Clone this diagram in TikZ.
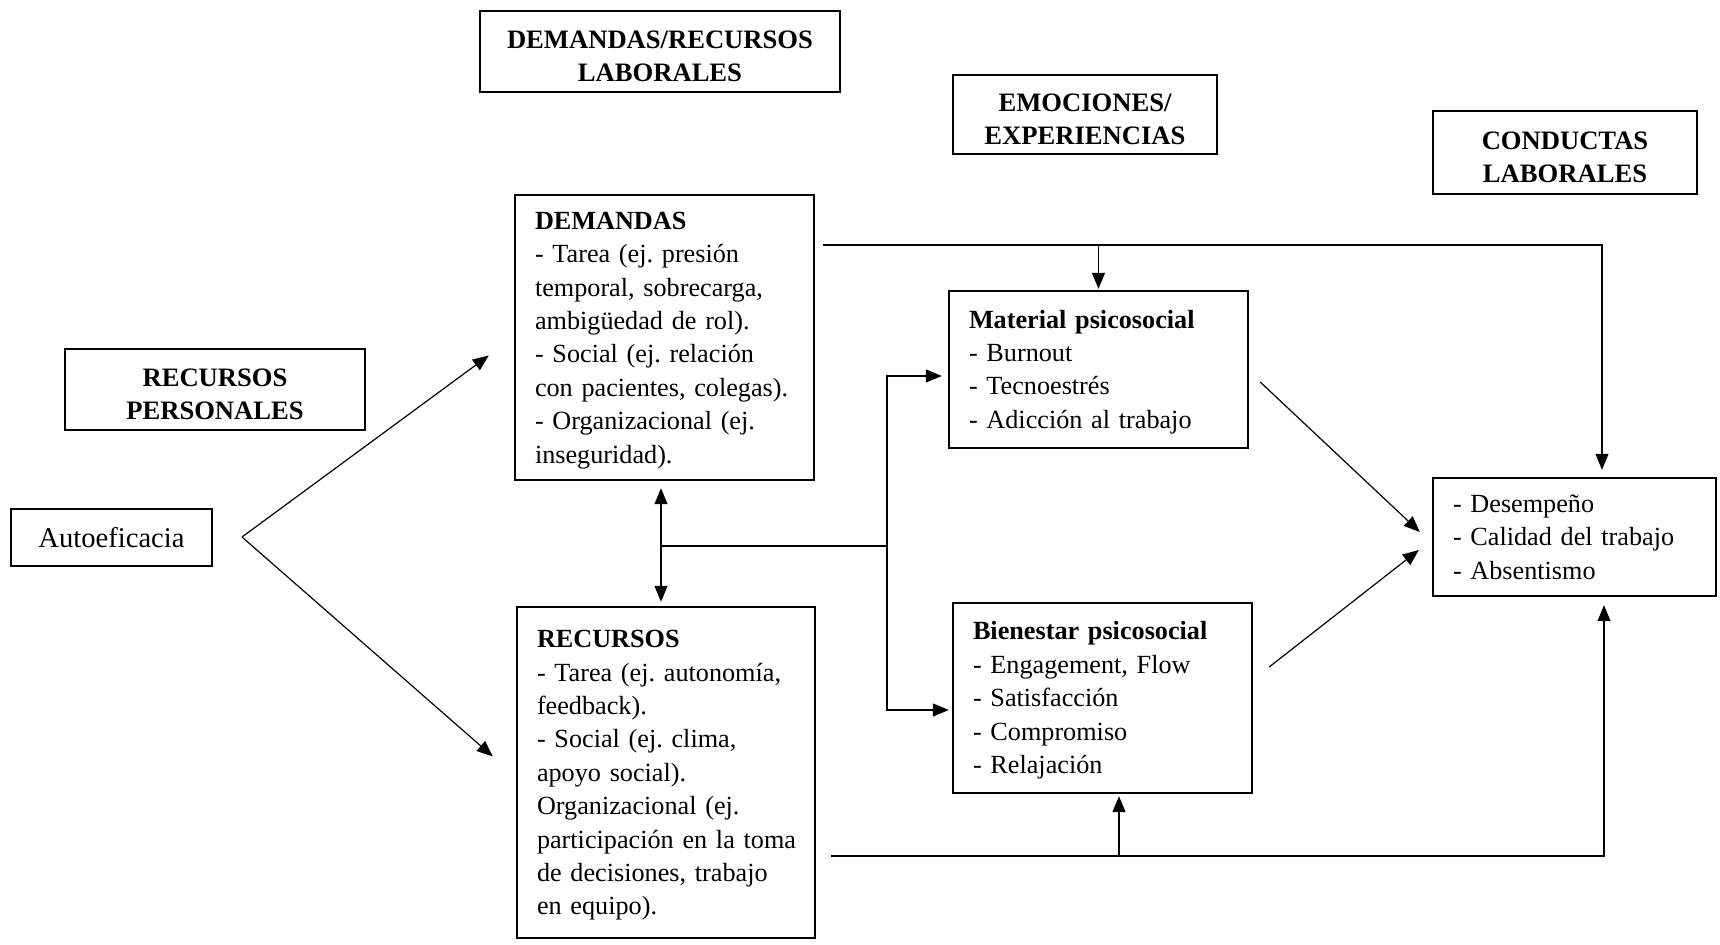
\documentclass[tikz,border=0pt]{standalone}
\usepackage{fontspec}
\setmainfont{Liberation Serif}
\usetikzlibrary{arrows.meta,positioning,calc}
\frenchspacing
\newcommand{\hdstrut}{\rule{0pt}{13.5pt}}
\newcommand{\btitle}[1]{\rule{0pt}{11.5pt}\textbf{#1}}
\tikzset{
  hbox/.style={rectangle,draw=black,line width=1.2pt,fill=white,
               font=\fontsize{13.3}{16.2}\selectfont\bfseries,align=center,inner sep=2pt},
  cbox/.style={rectangle,draw=black,line width=1.2pt,fill=white,
               font=\fontsize{13.1}{16.7}\selectfont,align=left,inner xsep=10pt,inner ysep=2pt,
               execute at begin node={\hyphenpenalty=10000}},
  abox/.style={rectangle,draw=black,line width=1.2pt,fill=white,
               font=\fontsize{14.3}{17}\selectfont,align=center,inner sep=2pt},
  tline/.style={line width=0.6pt},
  tedge/.style={-{Triangle[length=8pt,width=6.5pt]},tline},
  tboth/.style={{Triangle[length=8pt,width=6.5pt]}-{Triangle[length=8pt,width=6.5pt]},tline},
}

\begin{document}
\begin{tikzpicture}[x=0.5pt,y=-0.5pt]
  \useasboundingbox (0,0) rectangle (1720,945);

  % column headers
  \node[hbox,minimum width=180pt,minimum height=40.5pt] (dlab) at (660,51.5) {\hdstrut DEMANDAS/RECURSOS\\LABORALES};
  \node[hbox,minimum width=132pt,minimum height=39.5pt] (elab) at (1085,114.5) {\hdstrut EMOCIONES/\\EXPERIENCIAS};
  \node[hbox,minimum width=132pt,minimum height=41.5pt] (clab) at (1565,152.5) {\hdstrut CONDUCTAS\\LABORALES};
  \node[hbox,minimum width=150pt,minimum height=40.5pt] (plab) at (215,389.5) {\hdstrut RECURSOS\\PERSONALES};

  % content boxes
  \node[abox,minimum width=100.5pt,minimum height=28.5pt] (auto) at (111.5,537.5) {Autoeficacia};
  \node[cbox,text width=129.5pt,minimum height=142.5pt] (dem) at (664.5,337.5)
    {\btitle{DEMANDAS}\\- Tarea (ej. presión\\temporal, sobrecarga,\\ambigüedad de rol).\\- Social (ej. relación\\\mbox{con pacientes, colegas).}\\- Organizacional (ej.\\inseguridad).};
  \node[cbox,text width=129pt,minimum height=165.5pt] (rec) at (666,772.5)
    {\btitle{RECURSOS}\\- Tarea (ej. autonomía,\\feedback).\\- Social (ej. clima,\\apoyo social).\\Organizacional (ej.\\\mbox{participación en la toma}\\de decisiones, trabajo\\en equipo).};
  \node[cbox,text width=129.5pt,minimum height=78.5pt] (mat) at (1098.5,369.5)
    {\btitle{Material psicosocial}\\- Burnout\\- Tecnoestrés\\- Adicción al trabajo};
  \node[cbox,text width=129.5pt,minimum height=95pt] (bien) at (1102.5,698)
    {\btitle{Bienestar psicosocial}\\- Engagement, Flow\\- Satisfacción\\- Compromiso\\- Relajación};
  \node[cbox,text width=121.5pt,minimum height=59pt] (out) at (1574.5,537)
    {- Desempeño\\- Calidad del trabajo\\- Absentismo};

  % junctions
  \coordinate (split) at (242,537);
  \coordinate (hub) at (661,546);
  \coordinate (trunk) at (887,546);
  \coordinate (dright) at (823,245);
  \coordinate (rright) at (831,856);
  \coordinate (otop) at ([xshift=13.75pt,yshift=3.5pt]out.north);
  \coordinate (obot) at ([xshift=14.75pt,yshift=-4pt]out.south);
  \coordinate (bup) at ([xshift=8.25pt]bien.south);

  \draw[tedge] (split) -- ([xshift=-12.5pt,yshift=-9pt]dem.west);
  \draw[tedge] (split) -- ([xshift=-11.5pt,yshift=8pt]rec.west);
  \draw[tboth,shorten <=3.5pt,shorten >=2pt] (dem.south -| hub) -- (rec.north -| hub);
  \draw[tline] (hub) -- (trunk);
  \draw[tedge,shorten >=3pt] (trunk) |- ([yshift=-3.25pt]mat.west);
  \draw[tedge,shorten >=1.5pt] (trunk) |- ([yshift=-6pt]bien.west);
  \draw[tedge] (dright) -| (otop);
  \draw[tedge,shorten >=0.5pt] (mat.north |- dright) -- (mat.north);
  \draw[tedge] ([xshift=5.5pt,yshift=-6.25pt]mat.east) -- ([xshift=-6pt,yshift=2.5pt]out.west);
  \draw[tedge] ([xshift=8pt,yshift=15.5pt]bien.east) -- ([xshift=-6.5pt,yshift=-6.5pt]out.west);
  \draw[tedge] (rright) -| (obot);
  \draw[tedge,shorten >=1pt] (bup |- rright) -- (bup);
\end{tikzpicture}
\end{document}
